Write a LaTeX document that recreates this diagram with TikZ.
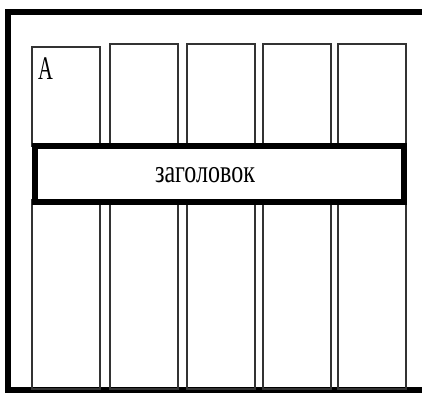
\documentclass[tikz,border=0pt]{standalone}
\usepackage{fontspec}
\usepackage{graphicx}
\newfontfamily\cyrserif{Liberation Serif}

\begin{document}
\begin{tikzpicture}[x=1pt, y=-1pt,
    colbox/.style={draw=black!80, line width=1.6pt},
    heavy/.style={draw=black, line width=6pt}]
    \useasboundingbox (0,0) rectangle (422,392);
    \clip (0,0) rectangle (422,392);
    % Outer frame
    \draw[heavy] (7.5,12) rectangle (440,389.5);
    % Columns
    \foreach \l/\t in {32/47,110/44,187/44,263/44,338/44} {
        \draw[colbox] (\l,\t) rectangle (\l+68,146);
        \draw[colbox] (\l,200) rectangle (\l+68,389);
    }
    \node[inner sep=0pt] (mark) at (45.5,69)
        {\scalebox{0.62}[1]{\fontsize{33}{33}\cyrserif A}};
    % Header band
    \node[heavy, fill=white, inner sep=0pt, minimum width=369pt,
          minimum height=56pt] (head) at (219.5,174) {};
    \node[inner sep=0pt] (headtext) at ([xshift=-14.5pt, yshift=-1pt]head.center)
        {\scalebox{0.75}[1]{\fontsize{32}{32}\cyrserif заголовок}};
\end{tikzpicture}
\end{document}
